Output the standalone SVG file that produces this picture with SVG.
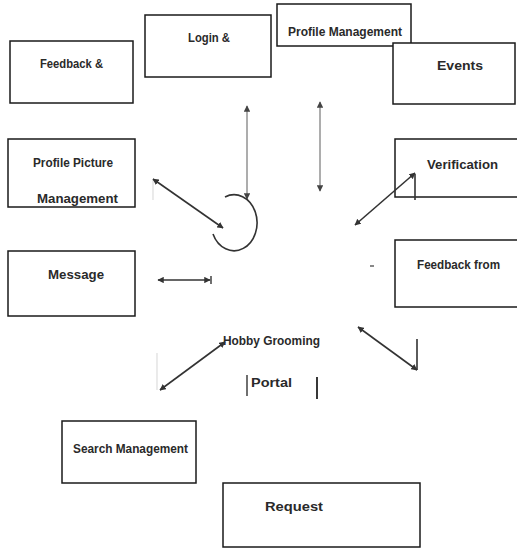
<svg xmlns="http://www.w3.org/2000/svg" width="517" height="548" viewBox="0 0 517 548">
<style>
.box{fill:#fff;stroke:#1a1a1a;stroke-width:1.5}
.t{font-family:"Liberation Sans Narrow","Liberation Sans","DejaVu Sans",sans-serif;font-weight:bold;fill:#2a2a2a;font-size:12px}
.b{font-size:13px}
.c{stroke:#333;stroke-width:1.6;fill:none}
.g{stroke:#999;stroke-width:1.6;fill:none}
.f{stroke:#ddd;stroke-width:1.2;fill:none}
</style>
<defs>
<marker id="ah" viewBox="0 0 10 10" refX="9" refY="5" markerWidth="4" markerHeight="4" orient="auto-start-reverse"><path d="M0,0L10,5L0,10z" fill="#333"/></marker>
<marker id="ahg" viewBox="0 0 10 10" refX="9" refY="5" markerWidth="4" markerHeight="4" orient="auto-start-reverse"><path d="M0,0L10,5L0,10z" fill="#444"/></marker>
</defs>
<g id="feedback"><rect class="box" x="10" y="41" width="123" height="62"/><text class="t" x="40" y="68" textLength="63" lengthAdjust="spacingAndGlyphs">Feedback &amp;</text></g>
<g id="login"><rect class="box" x="145" y="15" width="126" height="62"/><text class="t" x="188" y="42" textLength="42" lengthAdjust="spacingAndGlyphs">Login &amp;</text></g>
<g id="profile-management"><rect class="box" x="277" y="4" width="134" height="42"/><text class="t" x="288" y="36" textLength="114" lengthAdjust="spacingAndGlyphs">Profile Management</text></g>
<g id="events"><rect class="box" x="393" y="43" width="122" height="61"/><text class="t b" x="437" y="70" textLength="46" lengthAdjust="spacingAndGlyphs">Events</text></g>
<g id="verification"><rect class="box" x="395" y="139" width="124" height="58"/><text class="t b" x="427" y="169" textLength="71" lengthAdjust="spacingAndGlyphs">Verification</text></g>
<g id="feedback-from"><rect class="box" x="395" y="240" width="124" height="67"/><text class="t" x="417" y="269" textLength="83" lengthAdjust="spacingAndGlyphs">Feedback from</text></g>
<g id="profile-picture"><rect class="box" x="8" y="139" width="127" height="68"/><text class="t" x="33" y="167" textLength="80" lengthAdjust="spacingAndGlyphs">Profile Picture</text><text class="t b" x="37" y="203" textLength="81" lengthAdjust="spacingAndGlyphs">Management</text></g>
<g id="message"><rect class="box" x="8" y="251" width="127" height="65"/><text class="t b" x="48" y="279" textLength="56" lengthAdjust="spacingAndGlyphs">Message</text></g>
<g id="search"><rect class="box" x="62" y="421" width="134" height="62"/><text class="t" x="73" y="453" textLength="115" lengthAdjust="spacingAndGlyphs">Search  Management</text></g>
<g id="request"><rect class="box" x="223" y="483" width="197" height="64"/><text class="t b" x="265" y="511" textLength="58" lengthAdjust="spacingAndGlyphs">Request</text></g>
<g id="portal"><text class="t" x="223" y="345" textLength="97" lengthAdjust="spacingAndGlyphs">Hobby Grooming</text><text class="t b" x="251" y="387" textLength="41" lengthAdjust="spacingAndGlyphs">Portal</text><line x1="247" y1="375" x2="247" y2="396" stroke="#333" stroke-width="1.4"/><line x1="317" y1="377" x2="317" y2="399" stroke="#222" stroke-width="1.8"/></g>
<g id="connectors">
<line class="g" x1="247" y1="106" x2="247" y2="199" marker-start="url(#ahg)" marker-end="url(#ahg)"/>
<line class="g" x1="320" y1="102" x2="320" y2="191" marker-start="url(#ahg)" marker-end="url(#ahg)"/>
<path class="c" d="M225,197 A23,28 0 1 1 213,234"/>
<line class="f" x1="153" y1="180" x2="153" y2="200"/>
<line class="c" x1="153" y1="179" x2="223" y2="228" marker-start="url(#ah)" marker-end="url(#ah)"/>
<line class="c" x1="158" y1="280" x2="210" y2="280" marker-start="url(#ah)" marker-end="url(#ah)"/>
<line x1="211" y1="276" x2="211" y2="284" stroke="#333" stroke-width="1.4"/>
<line class="c" x1="355" y1="225" x2="415" y2="173" marker-start="url(#ah)" marker-end="url(#ah)"/>
<line class="c" x1="415" y1="174" x2="415" y2="200"/>
<line class="c" x1="358" y1="327" x2="417" y2="370" marker-start="url(#ah)" marker-end="url(#ah)"/>
<line class="c" x1="417" y1="339" x2="417" y2="370"/>
<line class="f" x1="157" y1="353" x2="157" y2="390"/>
<line class="c" x1="225" y1="342" x2="160" y2="390" marker-start="url(#ah)" marker-end="url(#ah)"/>
<line x1="370" y1="266" x2="374" y2="266" stroke="#555" stroke-width="1.4"/>
</g>
</svg>
